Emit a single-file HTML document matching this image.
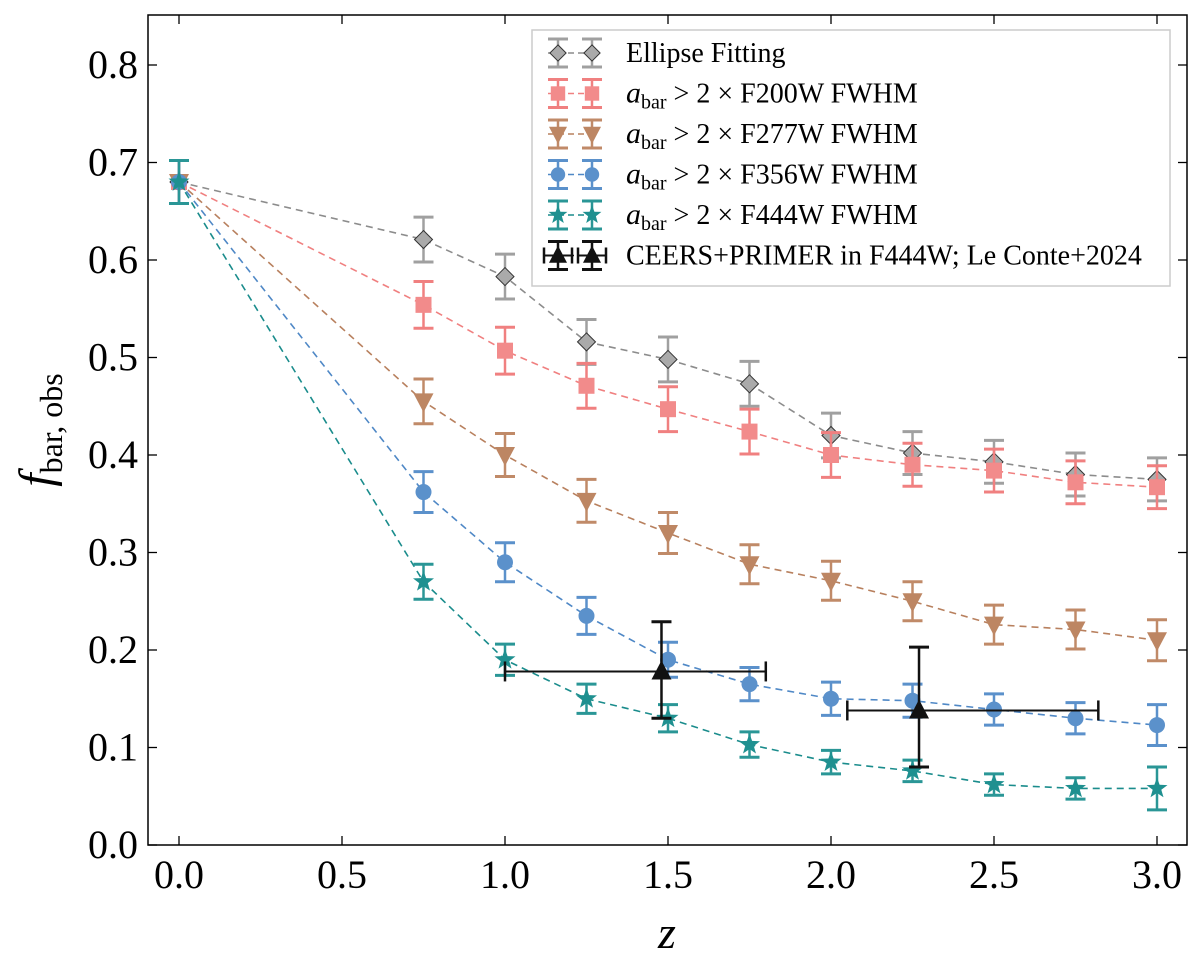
<!DOCTYPE html>
<html><head><meta charset="utf-8"><style>
body{margin:0;background:#fff;}
svg text{font-family:"Liberation Serif",serif;}
</style></head><body>
<svg id="c" width="1200" height="959" xmlns="http://www.w3.org/2000/svg"></svg>
<script>
const zs=[0,0.75,1,1.25,1.5,1.75,2,2.25,2.5,2.75,3];
const ellipse=[0.68,0.621,0.583,0.516,0.498,0.473,0.42,0.402,0.393,0.38,0.375];
const f200=[0.68,0.554,0.507,0.471,0.447,0.424,0.400,0.390,0.384,0.372,0.367];
const f277=[0.68,0.455,0.400,0.353,0.320,0.288,0.271,0.250,0.226,0.221,0.210];
const f356=[0.68,0.362,0.290,0.235,0.190,0.165,0.150,0.148,0.139,0.130,0.123];
const f444=[0.68,0.270,0.190,0.150,0.130,0.103,0.085,0.076,0.062,0.058,0.058];
const errEll=[0.022,0.023,0.023,0.023,0.023,0.023,0.023,0.022,0.022,0.022,0.022];
const err200=[0.022,0.024,0.024,0.023,0.023,0.023,0.023,0.022,0.022,0.022,0.022];
const err277=[0.022,0.023,0.022,0.022,0.021,0.020,0.020,0.020,0.020,0.020,0.021];
const err356=[0.022,0.021,0.020,0.019,0.018,0.017,0.017,0.017,0.016,0.016,0.021];
const err444=[0.022,0.018,0.016,0.015,0.014,0.013,0.012,0.011,0.011,0.011,0.022];
const ceersZ=[1.48,2.27];
const ceersF=[0.178,0.138];
const ceersXlo=[1.0,2.05],ceersXhi=[1.8,2.82];
const ceersYlo=[0.130,0.080],ceersYhi=[0.229,0.203];
const xTicks=[0,0.5,1,1.5,2,2.5,3];
const yTicks=[0,0.1,0.2,0.3,0.4,0.5,0.6,0.7,0.8];
const legendLabels=["Ellipse Fitting","F200W","F277W","F356W","F444W","CEERS+PRIMER in F444W; Le Conte+2024"];

const L=148,R=1187,T=15,B=845;
const X=v=>179+v*326;
const Y=v=>845-v*975;
const svg=document.getElementById('c');
const NS='http://www.w3.org/2000/svg';
function el(t,a,p){const e=document.createElementNS(NS,t);for(const k in a)e.setAttribute(k,a[k]);(p||svg).appendChild(e);return e;}

const series=[
 {d:ellipse,e:errEll,c:'#8c8c8c',ec:'#a0a0a0',m:'diamond',fill:'#aaaaaa',name:'ellipse'},
 {d:f200,e:err200,c:'#f08080',ec:'#f08080',m:'square',fill:'#f28b8b',name:'f200w'},
 {d:f277,e:err277,c:'#b8805e',ec:'#c08a68',m:'tri-down',fill:'#bd8663',name:'f277w'},
 {d:f356,e:err356,c:'#4f88c6',ec:'#5b91cb',m:'circle',fill:'#5b91cb',name:'f356w'},
 {d:f444,e:err444,c:'#1a8c8c',ec:'#2a9696',m:'star',fill:'#1f9090',name:'f444w'}];

function marker(m,x,y,fill,g,s){
 s=s||1;
 if(m==='diamond')return el('path',{d:`M${x} ${y-9*s}L${x+9*s} ${y}L${x} ${y+9*s}L${x-9*s} ${y}Z`,fill:fill,stroke:'#333','stroke-width':1},g);
 if(m==='square')return el('rect',{x:x-8*s,y:y-8*s,width:16*s,height:16*s,fill:fill},g);
 if(m==='tri-down')return el('path',{d:`M${x-10*s} ${y-8*s}L${x+10*s} ${y-8*s}L${x} ${y+11*s}Z`,fill:fill},g);
 if(m==='tri-up')return el('path',{d:`M${x-10*s} ${y+8*s}L${x+10*s} ${y+8*s}L${x} ${y-11*s}Z`,fill:fill},g);
 if(m==='circle')return el('circle',{cx:x,cy:y,r:8*s,fill:fill},g);
 if(m==='star'){let p='';for(let i=0;i<10;i++){const r=(i%2?4.5:11)*s,a=-Math.PI/2+i*Math.PI/5;p+=(i?'L':'M')+(x+r*Math.cos(a)).toFixed(1)+' '+(y+r*Math.sin(a)).toFixed(1);}return el('path',{d:p+'Z',fill:fill},g);}
}
function ebar(x,y1,y2,c,g,w){el('line',{x1:x,x2:x,y1:y1,y2:y2,stroke:c,'stroke-width':2.5},g);
 el('line',{x1:x-(w||10),x2:x+(w||10),y1:y1,y2:y1,stroke:c,'stroke-width':3},g);
 el('line',{x1:x-(w||10),x2:x+(w||10),y1:y2,y2:y2,stroke:c,'stroke-width':3},g);}

series.forEach(s=>{
 const g=el('g',{});
 el('polyline',{points:zs.map((z,i)=>X(z)+','+Y(s.d[i])).join(' '),fill:'none',stroke:s.c,'stroke-width':1.6,'stroke-dasharray':'7,5'},g);
 zs.forEach((z,i)=>{ebar(X(z),Y(s.d[i]-s.e[i]),Y(s.d[i]+s.e[i]),s.ec,g);marker(s.m,X(z),Y(s.d[i]),s.fill,g);});
});
const cg=el('g',{});
ceersZ.forEach((z,i)=>{
 el('line',{x1:X(ceersXlo[i]),x2:X(ceersXhi[i]),y1:Y(ceersF[i]),y2:Y(ceersF[i]),stroke:'#111','stroke-width':2},cg);
 [ceersXlo[i],ceersXhi[i]].forEach(v=>el('line',{x1:X(v),x2:X(v),y1:Y(ceersF[i])-10,y2:Y(ceersF[i])+10,stroke:'#111','stroke-width':2.5},cg));
 ebar(X(z),Y(ceersYlo[i]),Y(ceersYhi[i]),'#111',cg,10);
 marker('tri-up',X(z),Y(ceersF[i]),'#111',cg);
});
el('rect',{x:L,y:T,width:R-L,height:B-T,fill:'none',stroke:'#000','stroke-width':1.5,});
xTicks.forEach(v=>{el('line',{x1:X(v),x2:X(v),y1:B,y2:B-9,stroke:'#000','stroke-width':1.3});el('line',{x1:X(v),x2:X(v),y1:T,y2:T+9,stroke:'#000','stroke-width':1.3});
 const t=el('text',{x:X(v),y:B+43,'font-size':40,'text-anchor':'middle',});t.textContent=v.toFixed(1);});
yTicks.forEach(v=>{el('line',{x1:L,x2:L+9,y1:Y(v),y2:Y(v),stroke:'#000','stroke-width':1.3});el('line',{x1:R,x2:R-9,y1:Y(v),y2:Y(v),stroke:'#000','stroke-width':1.3});
 const t=el('text',{x:L-10,y:Y(v)+13,'font-size':40,'text-anchor':'end',});t.textContent=v.toFixed(1);});
let t=el('text',{x:667,y:948,'font-size':46,'font-style':'italic','text-anchor':'middle',});t.textContent='z';
t=el('text',{transform:'translate(52,430) rotate(-90)','font-size':48,'text-anchor':'middle',});
t.innerHTML='<tspan font-style="italic">f</tspan><tspan font-size="32" dy="10">bar, obs</tspan>';
const lg=el('g',{});
el('rect',{x:532,y:30,width:638,height:256,fill:'#fff',stroke:'#ccc','stroke-width':1.5},lg);
const rows=[...series.map(s=>({m:s.m,c:s.c,ec:s.ec,f:s.fill})),{m:'tri-up',c:'#111',ec:'#111',f:'#111',ceers:true}];
rows.forEach((r,i)=>{const y=53+i*40.5;const g=el('g',{},lg);
 el('line',{x1:548,x2:596,y1:y,y2:y,stroke:r.c,'stroke-width':1.6,'stroke-dasharray':'6,4'},g);
 [558,592].forEach(x=>{ebar(x,y-14,y+14,r.ec,g,10);if(r.ceers){el('line',{x1:x-14,x2:x+14,y1:y,y2:y,stroke:'#111','stroke-width':2},g);[x-14,x+14].forEach(q=>el('line',{x1:q,x2:q,y1:y-8,y2:y+8,stroke:'#111','stroke-width':2.5},g));}marker(r.m,x,y,r.f,g,0.9);});
 const tx=el('text',{x:626,y:y+9,'font-size':28},g);
 if(i===0||r.ceers)tx.textContent=legendLabels[i];
 else tx.innerHTML='<tspan font-style="italic" font-size="30">a</tspan><tspan font-size="20" dy="6">bar</tspan><tspan dy="-6"> &gt; 2 × '+legendLabels[i]+' FWHM</tspan>';
});
</script>
</body></html>
